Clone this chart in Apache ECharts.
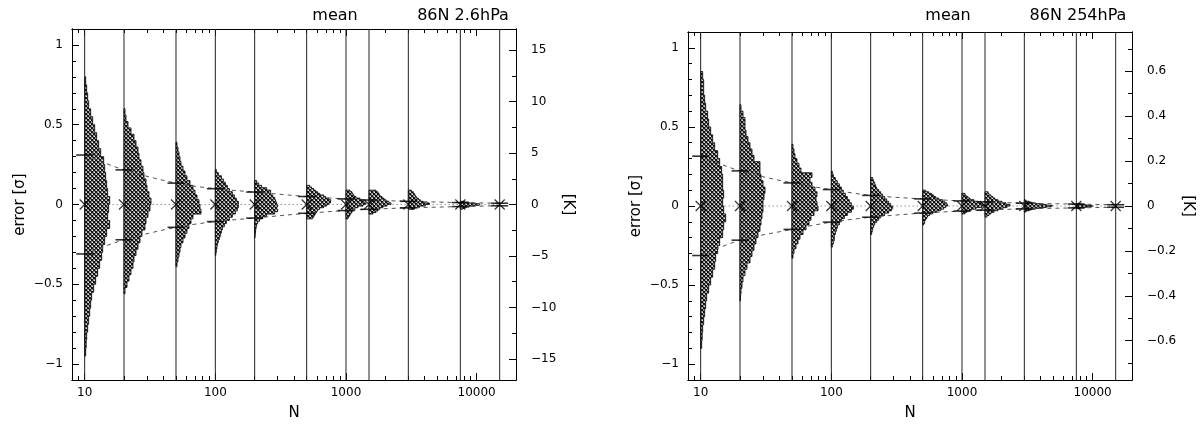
<!DOCTYPE html>
<html><head><meta charset="utf-8">
<script src="https://cdn.jsdelivr.net/npm/echarts@6/dist/echarts.min.js"></script>
<style>html,body{margin:0;padding:0;background:#fff}#c{width:1202px;height:426px}</style>
</head><body><div id="c"></div>
<script>
// ---------------- data ----------------
const nValues = [10, 20, 50, 100, 200, 500, 1000, 1500, 3000, 7500, 15000];
const xTickLabels = [10, 100, 1000, 10000];
const yTickLabels = [-1, -0.5, 0, 0.5, 1];
const kTickLabelsLeft = [-15, -10, -5, 0, 5, 10, 15];
const kTickLabelsRight = [-0.6, -0.4, -0.2, 0, 0.2, 0.4, 0.6];
const kMinorLeft = [-17.5, -12.5, -7.5, -2.5, 2.5, 7.5, 12.5];
const kMinorRight = [-0.7, -0.5, -0.3, -0.1, 0.1, 0.3, 0.5, 0.7];
const kMaxLeft = 17.05;   // K equivalent of 1.1 sigma (left panel)
const kMaxRight = 0.775;  // K equivalent of 1.1 sigma (right panel)

const titleLeft = ['mean', '86N 2.6hPa'];
const titleRight = ['mean', '86N 254hPa'];

const meanLeft  = [0, 0, 0, 0, 0, 0, 0, 0, 0, 0, 0];
const meanRight = [0, 0, 0, 0, 0, 0, 0, 0, 0, 0, 0];
const upperLeft  = [0.31, 0.217, 0.134, 0.099, 0.078, 0.05, 0.035, 0.028, 0.02, 0.012, 0.008];
const lowerLeft  = [-0.31, -0.221, -0.143, -0.107, -0.085, -0.055, -0.038, -0.03, -0.021, -0.013, -0.008];
const upperRight = [0.315, 0.222, 0.146, 0.104, 0.067, 0.045, 0.032, 0.026, 0.018, 0.012, 0.008];
const lowerRight = [-0.313, -0.216, -0.148, -0.102, -0.071, -0.045, -0.032, -0.026, -0.018, -0.012, -0.008];

// histograms: top edge (sigma), bin height (sigma), counts from top to bottom
const histTopLeft = [0.80, 0.60, 0.39, 0.22, 0.15, 0.12, 0.09, 0.09, 0.09, 0.02, 0.008];
const histBinLeft = [0.05, 0.04, 0.03, 0.02, 0.015, 0.01, 0.01, 0.01, 0.01, 0.005, 0.004];
const histCountsLeft = [
  [1,2,3,4,6,8,10,12,14,16,19,20,21,22,23,25,24,23,25,22,20,18,17,15,13,11,9,7,6,5,4,3,2,1.5,1],
  [1,2,4,7,10,12,14,15,17,19,20,22,23,25,27,26,24,22,21,18,16,14,12,10,9,7,5,3,1],
  [1,2,3,4,5,7,9,11,14,17,19,21,23,24,25,17,15,13,11,9,7,5,4,3,2,1],
  [1,3,6,8,10,12,14,17,19,21,23,23,22,20,17,14,11,9,7,6,5,4,3,2,1.5,1,0.5],
  [2,4,7,12,16,16,18,20,21,22,23,22,23,20,12,8,5,3,2,1.5,1,0.8,0.5,0.3],
  [3,5,7,9,11,13,17,19,22,24,24,22,20,17,13,11,10,9,8,7,6],
  [4,6,7,8,10,14,16,18,20,17,12,9,7,6,5,4,3,2],
  [7,9,10,11,13,15,17,20,22,18,14,11,9,7,4],
  [3,5,6,7,8,10,12,15,21,17,11,6],
  [4,8,14,19,19,14,9,6,4,2],
  []
];
const histTopRight = [0.85, 0.64, 0.39, 0.22, 0.18, 0.10, 0.08, 0.09, 0.04, 0.016, 0];
const histBinRight = [0.05, 0.04, 0.03, 0.02, 0.015, 0.01, 0.01, 0.01, 0.005, 0.004, 0.004];
const histCountsRight = [
  [2,3,3,4,5,7,8,10,12,14,17,19,21,22,22,23,22,23,25,23,22,19,17,15,14,12,10,8,6,5,4,3,2,1.5,1],
  [1,3,5,5,6,8,10,12,14,20,20,21,23,25,24,23,23,22,21,20,18,16,14,12,10,7,5,3,2,1,0.5],
  [1,2,3,5,7,9,20,18,20,23,25,24,25,26,22,19,17,14,11,8,6,4,2,1],
  [1,2,4,6,8,10,12,14,16,18,20,22,20,16,13,10,8,6,5,4,3,3,2,1],
  [2,3,4,5,6,8,10,12,14,16,18,20,22,21,18,14,10,8,6,4,3,2,1.5,1],
  [3,6,9,11,13,16,20,22,24,25,23,21,18,14,10,7,5,4,3,2,2,1],
  [3,4,6,8,12,16,20,22,20,14,9,5,3],
  [3,4,6,8,10,13,17,21,25,22,18,13,9,6,4,2],
  [1,2,4,7,11,16,22,28,27,22,16,11,7,4,2,1],
  [3,6,10,16,16,11,6,3],
  []
];

// ---------------- styling / layout ----------------
const X_MIN = 8, X_MAX = 20000, Y_MIN = -1.1, Y_MAX = 1.1;
const PX_PER_COUNT = 1;
const FONT = 'DejaVu Sans';
const xMinor = [];
[1, 10, 100, 1000].forEach(d => { for (let m = 2; m <= 9; m++) xMinor.push(m * d); });
xMinor.push(9, 20000);
const yMinor = [];
for (let i = -10; i <= 10; i++) yMinor.push(i / 10);

const minus = v => String(v).replace('-', '\u2212');
const plain = v => String(Math.round(v));

// hatch pattern
const pc = document.createElement('canvas');
pc.width = 4; pc.height = 4;
const pctx = pc.getContext('2d');
pctx.fillStyle = '#8c8c8c'; pctx.fillRect(0, 0, 4, 4);
pctx.fillStyle = '#111';
[[0,0],[1,1],[2,2],[3,3],[3,0],[2,1],[1,2],[0,3]].forEach(p => pctx.fillRect(p[0], p[1], 1, 1));
pctx.fillStyle = '#e8e8e8';
[[2,0],[0,2]].forEach(p => pctx.fillRect(p[0], p[1], 1, 1));
const hatch = { image: pc, repeat: 'repeat' };

const grids = [
  { left: 72, top: 29, width: 444, height: 354 },
  { left: 688, top: 32, width: 444, height: 354 }
];

const tickStyle = { color: '#000', width: 1 };
const lineStyleAxis = { show: true, onZero: false, lineStyle: { color: '#000', width: 1 } };

function xAxesFor(g) {
  const base = { type: 'log', logBase: 10, gridIndex: g, min: X_MIN, max: X_MAX,
    splitLine: { show: false }, axisLine: lineStyleAxis };
  return [
    Object.assign({}, base, { position: 'bottom', name: 'N', nameLocation: 'middle', nameGap: 26,
      nameTextStyle: { fontFamily: FONT, fontSize: 15, color: '#000' },
      axisTick: { inside: true, length: 7, customValues: xTickLabels, lineStyle: tickStyle },
      axisLabel: { customValues: xTickLabels, margin: 7, formatter: plain, fontFamily: FONT, fontSize: 12, color: '#000' } }),
    Object.assign({}, base, { position: 'bottom',
      axisTick: { inside: true, length: 4, customValues: xMinor, lineStyle: tickStyle },
      axisLabel: { show: false } }),
    Object.assign({}, base, { position: 'top',
      axisTick: { inside: true, length: 7, customValues: xTickLabels, lineStyle: tickStyle },
      axisLabel: { show: false } }),
    Object.assign({}, base, { position: 'top',
      axisTick: { inside: true, length: 4, customValues: xMinor, lineStyle: tickStyle },
      axisLabel: { show: false } })
  ];
}

function yAxesFor(g, kMax, kTicks, kMinor) {
  const base = { type: 'value', gridIndex: g, splitLine: { show: false }, axisLine: lineStyleAxis };
  return [
    Object.assign({}, base, { position: 'left', min: Y_MIN, max: Y_MAX,
      name: 'error [\u03c3]', nameLocation: 'middle', nameGap: 44, nameRotate: 90,
      nameTextStyle: { fontFamily: FONT, fontSize: 15, color: '#000' },
      axisTick: { inside: true, length: 7, customValues: yTickLabels, lineStyle: tickStyle },
      axisLabel: { customValues: yTickLabels, margin: 9, formatter: minus, fontFamily: FONT, fontSize: 12, color: '#000' } }),
    Object.assign({}, base, { position: 'left', min: Y_MIN, max: Y_MAX,
      axisTick: { inside: true, length: 4, customValues: yMinor, lineStyle: tickStyle },
      axisLabel: { show: false } }),
    Object.assign({}, base, { position: 'right', min: -kMax, max: kMax,
      name: '[K]', nameLocation: 'middle', nameGap: 42, nameRotate: -90,
      nameTextStyle: { fontFamily: FONT, fontSize: 15, color: '#000' },
      axisTick: { inside: true, length: 7, customValues: kTicks, lineStyle: tickStyle },
      axisLabel: { customValues: kTicks, margin: 15, formatter: minus, fontFamily: FONT, fontSize: 12, color: '#000' } }),
    Object.assign({}, base, { position: 'right', min: -kMax, max: kMax,
      axisTick: { inside: true, length: 4, customValues: kMinor, lineStyle: tickStyle },
      axisLabel: { show: false } })
  ];
}

function panelSeries(p, mean, upper, lower, tops, bins, counts) {
  const xi = 4 * p, yi = 4 * p;
  const pts = nValues.map((n, i) => [n, mean[i]]);
  return [
    { type: 'custom', xAxisIndex: xi, yAxisIndex: yi, silent: true, z: 1,
      data: pts, encode: { x: 0, y: 1 },
      renderItem: (params, api) => {
        const n = nValues[params.dataIndex];
        const a = api.coord([n, Y_MAX]), b = api.coord([n, Y_MIN]);
        return { type: 'line', shape: { x1: a[0], y1: a[1], x2: b[0], y2: b[1] },
          style: { stroke: '#222', lineWidth: 1 } };
      } },
    { type: 'custom', xAxisIndex: xi, yAxisIndex: yi, silent: true, z: 2,
      data: pts, encode: { x: 0, y: 1 },
      renderItem: (params, api) => {
        const i = params.dataIndex;
        const c = counts[i];
        if (!c || !c.length) return null;
        const n = nValues[i];
        const points = [];
        const start = api.coord([n, tops[i]]);
        points.push(start);
        for (let k = 0; k < c.length; k++) {
          const yT = tops[i] - k * bins[i], yB = yT - bins[i];
          const pT = api.coord([n, yT]), pB = api.coord([n, yB]);
          const xr = pT[0] + c[k] * PX_PER_COUNT;
          points.push([xr, pT[1]], [xr, pB[1]]);
        }
        points.push(api.coord([n, tops[i] - c.length * bins[i]]));
        return { type: 'polygon', shape: { points },
          style: { fill: hatch, stroke: '#111', lineWidth: 0.9 } };
      } },
    { type: 'line', xAxisIndex: xi, yAxisIndex: yi, data: nValues.map((n, i) => [n, upper[i]]),
      showSymbol: false, smooth: 0.3, z: 3, lineStyle: { color: '#555', width: 1, type: [4, 4] } },
    { type: 'line', xAxisIndex: xi, yAxisIndex: yi, data: nValues.map((n, i) => [n, lower[i]]),
      showSymbol: false, smooth: 0.3, z: 3, lineStyle: { color: '#555', width: 1, type: [4, 4] } },
    { type: 'line', xAxisIndex: xi, yAxisIndex: yi, data: pts,
      showSymbol: false, z: 3, lineStyle: { color: '#666', width: 1, type: [1, 3] } },
    { type: 'scatter', xAxisIndex: xi, yAxisIndex: yi, z: 4,
      data: nValues.map((n, i) => [n, upper[i]]).concat(nValues.map((n, i) => [n, lower[i]])),
      symbol: 'rect', symbolSize: [17, 1.6], itemStyle: { color: '#000' } },
    { type: 'scatter', xAxisIndex: xi, yAxisIndex: yi, z: 5, data: pts,
      symbol: 'path://M0,0L10,10M10,0L0,10', symbolSize: 10,
      itemStyle: { color: 'none', borderColor: '#000', borderWidth: 1.2 } }
  ];
}

function titleTexts(t, cx1, cx2) {
  return [
    { type: 'text', x: cx1, y: 16, style: { text: t[0], fill: '#000', font: '16px "DejaVu Sans"', textAlign: 'center', textVerticalAlign: 'middle' } },
    { type: 'text', x: cx2, y: 16, style: { text: t[1], fill: '#000', font: '16px "DejaVu Sans"', textAlign: 'center', textVerticalAlign: 'middle' } }
  ];
}

const option = {
  animation: false,
  backgroundColor: '#fff',
  grid: grids,
  xAxis: xAxesFor(0).concat(xAxesFor(1)),
  yAxis: yAxesFor(0, kMaxLeft, kTickLabelsLeft, kMinorLeft).concat(yAxesFor(1, kMaxRight, kTickLabelsRight, kMinorRight)),
  series: panelSeries(0, meanLeft, upperLeft, lowerLeft, histTopLeft, histBinLeft, histCountsLeft)
    .concat(panelSeries(1, meanRight, upperRight, lowerRight, histTopRight, histBinRight, histCountsRight)),
  graphic: titleTexts(titleLeft, 335, 463).concat(titleTexts(titleRight, 948, 1078))
};

const chart = echarts.init(document.getElementById('c'), null, { renderer: 'canvas' });
chart.setOption(option);
</script>
</body></html>
